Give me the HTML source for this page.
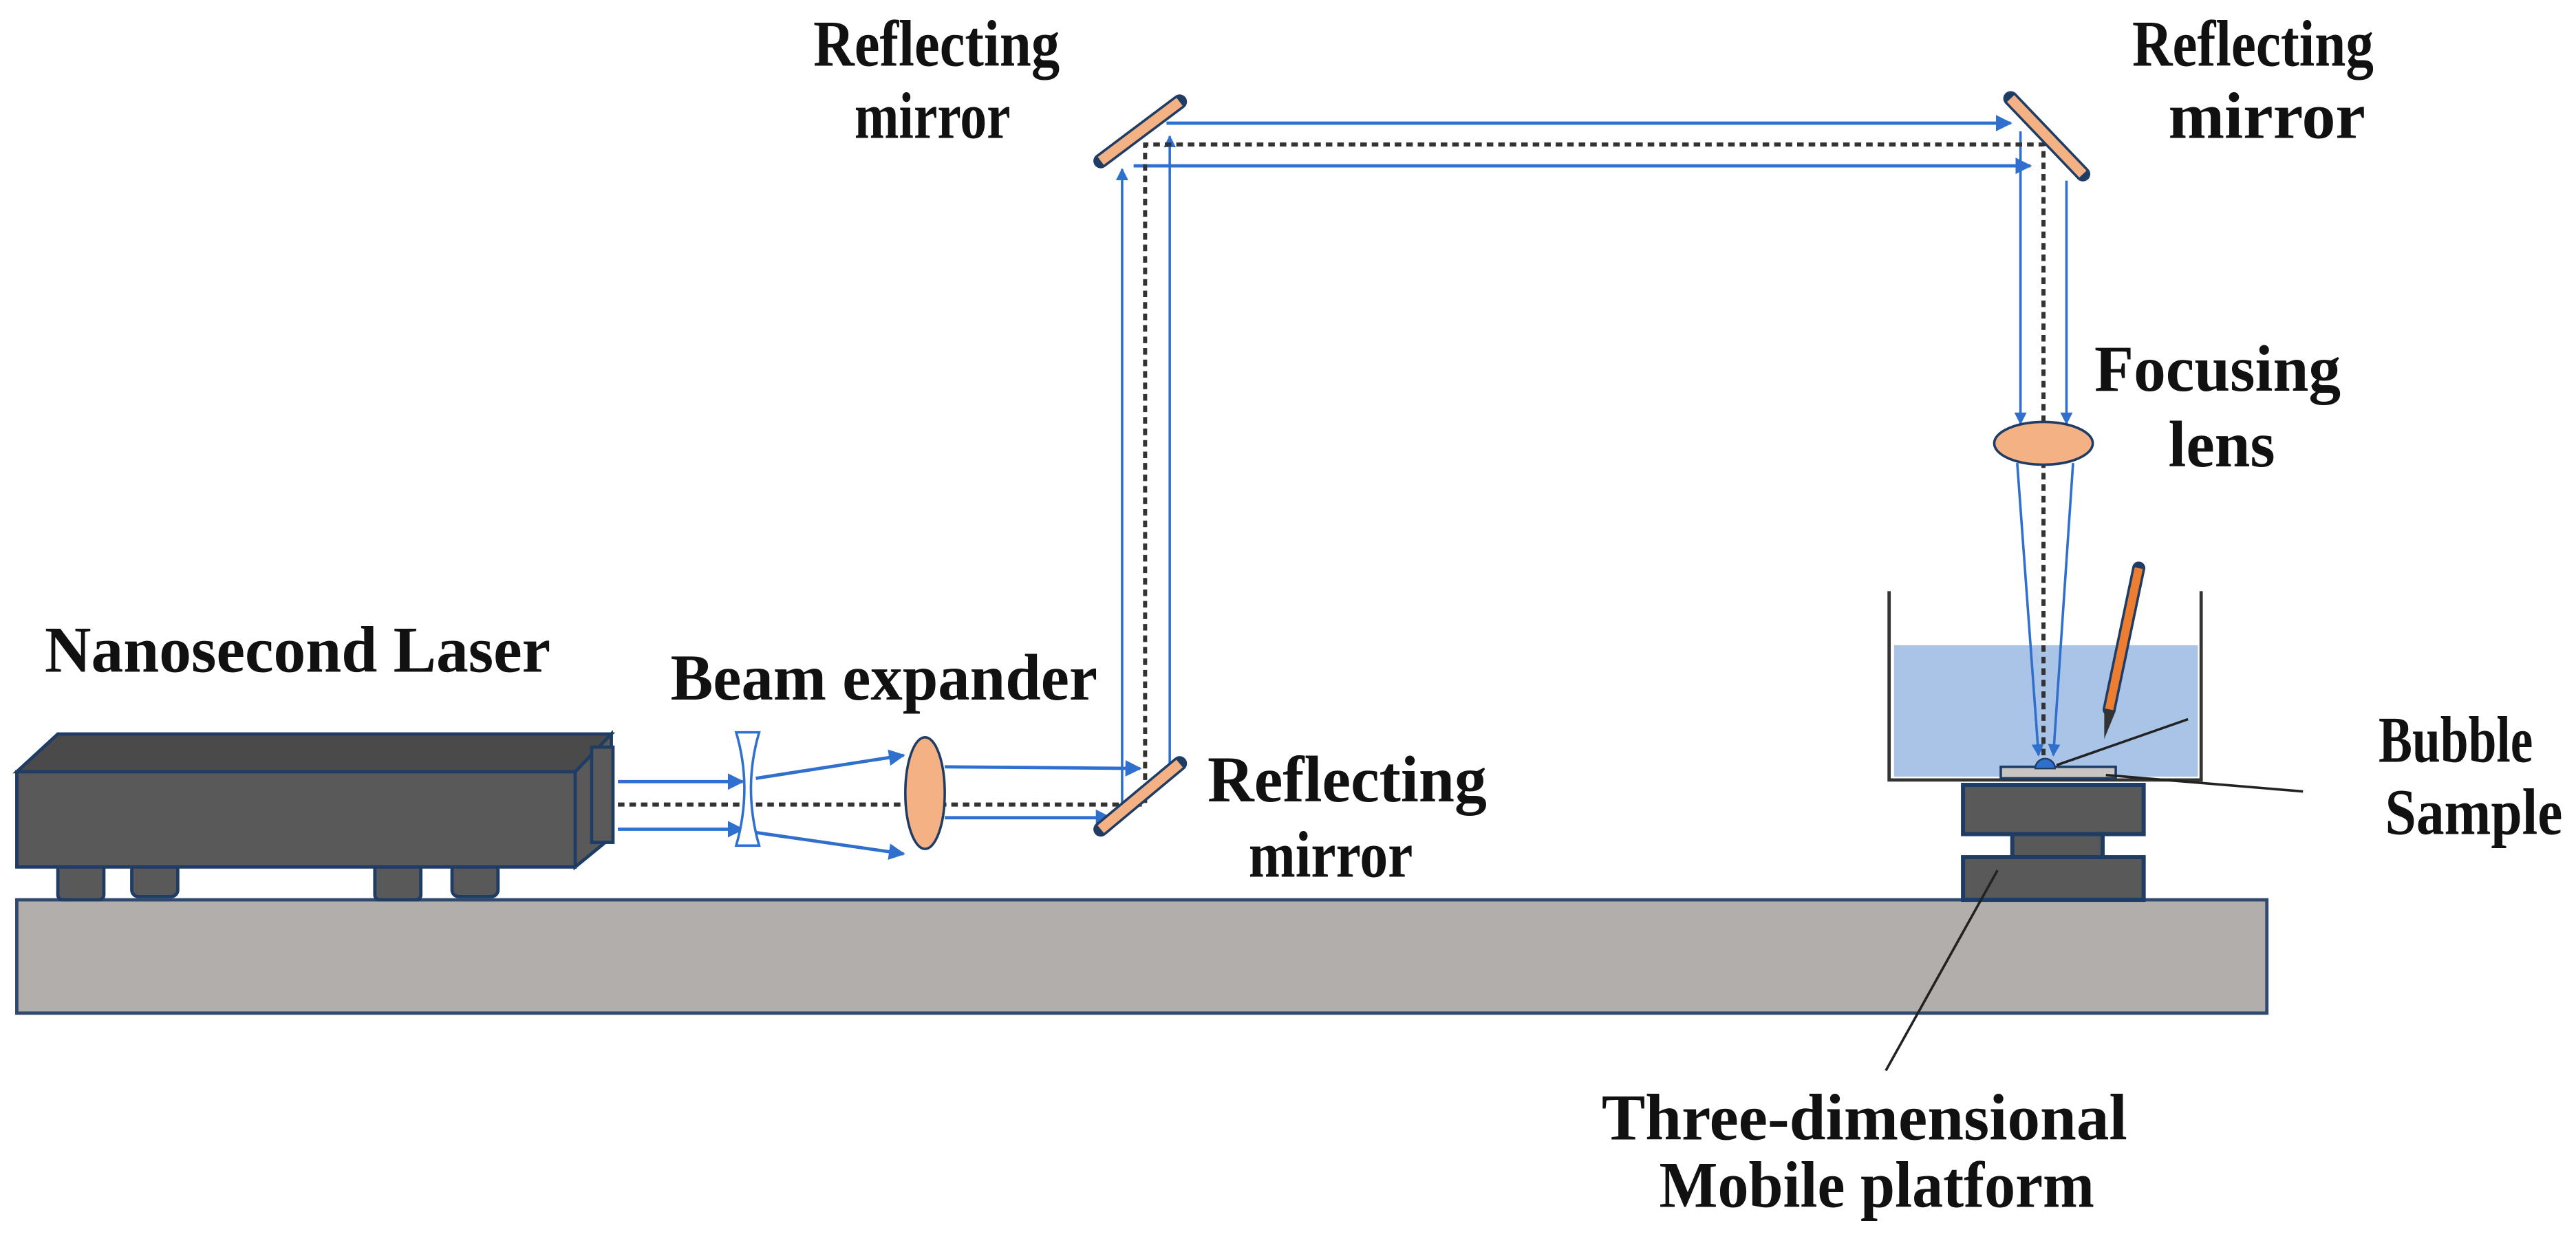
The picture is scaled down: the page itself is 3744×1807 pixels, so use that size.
<!DOCTYPE html>
<html><head><meta charset="utf-8"><style>html,body{margin:0;padding:0;background:#fff}svg{display:block}</style></head>
<body>
<svg width="3744" height="1807" viewBox="0 0 1568 757" xmlns="http://www.w3.org/2000/svg">
<defs>
<marker id="a" viewBox="0 0 10 10" refX="9" refY="5" markerWidth="5" markerHeight="5" orient="auto"><path d="M0,0L10,5L0,10z" fill="#2f6fce"/></marker>
</defs>
<g font-family="Liberation Serif, serif" font-weight="bold" font-size="40" fill="#111" lengthAdjust="spacingAndGlyphs">
<text x="495" y="40" textLength="150" lengthAdjust="spacingAndGlyphs">Reflecting</text>
<text x="520" y="84" textLength="95" lengthAdjust="spacingAndGlyphs">mirror</text>
<text x="1298" y="40" textLength="147" lengthAdjust="spacingAndGlyphs">Reflecting</text>
<text x="1320" y="84" textLength="120" lengthAdjust="spacingAndGlyphs">mirror</text>
<text x="1275" y="238" textLength="150" lengthAdjust="spacingAndGlyphs">Focusing</text>
<text x="1320" y="284" textLength="65" lengthAdjust="spacingAndGlyphs">lens</text>
<text x="27" y="409" textLength="308" lengthAdjust="spacingAndGlyphs">Nanosecond Laser</text>
<text x="408" y="426" textLength="260" lengthAdjust="spacingAndGlyphs">Beam expander</text>
<text x="735" y="488" textLength="170" lengthAdjust="spacingAndGlyphs">Reflecting</text>
<text x="760" y="534" textLength="100" lengthAdjust="spacingAndGlyphs">mirror</text>
<text x="598" y="603" textLength="190" lengthAdjust="spacingAndGlyphs">Workbench</text>
<text x="1448" y="464" textLength="94" lengthAdjust="spacingAndGlyphs">Bubble</text>
<text x="1452" y="508" textLength="108" lengthAdjust="spacingAndGlyphs">Sample</text>
<text x="975" y="694" textLength="320" lengthAdjust="spacingAndGlyphs">Three-dimensional</text>
<text x="1010" y="735" textLength="265" lengthAdjust="spacingAndGlyphs">Mobile platform</text>
</g>
<!-- workbench -->
<rect x="10" y="548" width="1370" height="69" fill="#b2aeab" stroke="#2f4a6e" stroke-width="2"/>
<!-- laser -->
<g fill="#595959" stroke="#1f3d64" stroke-width="2">
<rect x="35" y="526" width="28" height="22" rx="3"/><rect x="80" y="526" width="28" height="20" rx="4"/>
<rect x="228" y="526" width="28" height="22" rx="3"/><rect x="275" y="526" width="28" height="20" rx="4"/>
<polygon points="10,470 35,447 372,447 350,470" fill="#4a4a4a"/>
<rect x="10" y="470" width="340" height="58"/>
<polygon points="350,470 372,447 372,510 350,528"/>
<rect x="360" y="455" width="13" height="58" fill="#5a5a5a"/>
</g>
<!-- tank water -->
<rect x="1153" y="393" width="185" height="80" fill="#a9c4e6"/>
<!-- beams -->
<g stroke="#2f6fce" stroke-width="2" fill="none">
<line x1="376" y1="476" x2="452" y2="476" marker-end="url(#a)"/>
<line x1="376" y1="505" x2="452" y2="505" marker-end="url(#a)"/>
<line x1="460" y1="474" x2="550" y2="460" marker-end="url(#a)"/>
<line x1="460" y1="507" x2="550" y2="520" marker-end="url(#a)"/>
<line x1="575" y1="467" x2="694" y2="468" marker-end="url(#a)"/>
<line x1="575" y1="498" x2="676" y2="498" marker-end="url(#a)"/>
<line x1="683" y1="495" x2="683" y2="103" marker-end="url(#a)" stroke-width="1.5"/>
<line x1="712" y1="466" x2="712" y2="83" marker-end="url(#a)" stroke-width="1.5"/>
<line x1="710" y1="75" x2="1224" y2="75" marker-end="url(#a)"/>
<line x1="690" y1="101" x2="1236" y2="101" marker-end="url(#a)"/>
<line x1="1230" y1="80" x2="1230" y2="258" marker-end="url(#a)" stroke-width="1.5"/>
<line x1="1258" y1="110" x2="1258" y2="258" marker-end="url(#a)" stroke-width="1.5"/>
<line x1="1228" y1="282" x2="1241" y2="460" marker-end="url(#a)" stroke-width="1.5"/>
<line x1="1262" y1="282" x2="1250" y2="460" marker-end="url(#a)" stroke-width="1.5"/>
</g>
<g stroke="#333" stroke-width="2.5" stroke-dasharray="4,3" fill="none">
<polyline points="376,490 697,490 697,88 1244,88 1244,462"/>
</g>
<polyline points="1150,360 1150,475 1340,475 1340,360" fill="none" stroke="#333" stroke-width="2"/>
<!-- pen -->
<line x1="1302" y1="346" x2="1284" y2="432" stroke="#1f3d64" stroke-width="8" stroke-linecap="round"/>
<line x1="1302" y1="346" x2="1284" y2="432" stroke="#ed7d31" stroke-width="5"/>
<polygon points="1281,432 1288,433 1281,450" fill="#333"/>
<!-- sample & bubble -->
<rect x="1218" y="467" width="70" height="7" fill="#c9c5c2" stroke="#1f3d64" stroke-width="1.5"/>
<path d="M1239,468 A6,6 0 0 1 1251,468 z" fill="#2f6fce" stroke="#1f3d64"/>
<!-- stage -->
<g fill="#595959" stroke="#1f3d64" stroke-width="2.5">
<rect x="1195" y="478" width="110" height="30"/>
<rect x="1225" y="508" width="55" height="14"/>
<rect x="1195" y="522" width="110" height="26"/>
</g>
<!-- leaders -->
<g stroke="#222" stroke-width="1.5">
<line x1="1252" y1="466" x2="1332" y2="438"/>
<line x1="1282" y1="472" x2="1402" y2="482"/>
<line x1="1216" y1="530" x2="1148" y2="652"/>
</g>
<!-- optics -->
<path d="M448,446 L462,446 Q452,480 462,515 L448,515 Q458,480 448,446 z" fill="#fff" stroke="#2f6fce" stroke-width="1.5"/>
<ellipse cx="563" cy="483" rx="12" ry="34" fill="#f4b183" stroke="#1f3d64" stroke-width="1.5"/>
<ellipse cx="1244" cy="270" rx="30" ry="13" fill="#f4b183" stroke="#1f3d64" stroke-width="1.5"/>
<g stroke="#1f3d64" stroke-width="9" stroke-linecap="round"><line x1="670" y1="505" x2="718" y2="465"/><line x1="670" y1="98" x2="718" y2="62"/><line x1="1224" y1="60" x2="1268" y2="106"/></g>
<g stroke="#f4b183" stroke-width="6"><line x1="670" y1="505" x2="718" y2="465"/><line x1="670" y1="98" x2="718" y2="62"/><line x1="1224" y1="60" x2="1268" y2="106"/></g>
</svg>
</body></html>
